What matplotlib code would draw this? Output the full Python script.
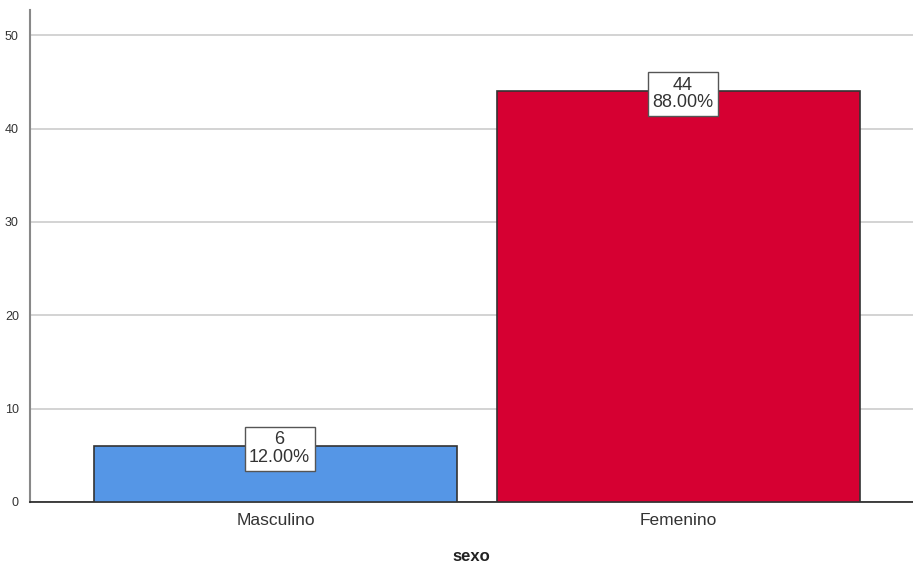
import matplotlib
matplotlib.use('Agg')
import matplotlib.pyplot as plt

categorias = ['Masculino', 'Femenino']
frecuencias = [6, 44]
porcentajes = [12.00, 88.00]
colores = ['#5596E6', '#D60032']

plt.rcParams['font.family'] = ['Liberation Sans', 'DejaVu Sans']

fig = plt.figure(figsize=(9.13, 5.68), dpi=100)
ax = fig.add_axes([30/913, 66/568, 883/913, 492/568])

x = list(range(len(categorias)))
ax.bar(x, frecuencias, width=0.9, color=colores, edgecolor='#333333', linewidth=1.2, zorder=3)

for xi, f, p in zip(x, frecuencias, porcentajes):
    ax.text(xi + 0.01, f - 0.3, "{}\n{:.2f}%".format(f, p), ha='center', va='center',
            fontsize=13, color='#333333', linespacing=1.05, zorder=4,
            bbox=dict(boxstyle='square,pad=0.25', fc='white', ec='#555555', lw=1))

ax.set_xlim(-0.609, 1.581)
ax.set_ylim(0, 52.7)
ax.set_yticks([0, 10, 20, 30, 40, 50])
ax.set_xticks(x)
ax.set_xticklabels(categorias, fontsize=12.5, color='#333333')
ax.tick_params(axis='y', length=0, labelsize=9, colors='#333333', pad=8)
ax.tick_params(axis='x', length=0, pad=8)
ax.yaxis.grid(True, color='#cccccc', linewidth=1.2, zorder=0)
ax.set_axisbelow(True)
for s in ['top', 'right']:
    ax.spines[s].set_visible(False)
ax.spines['left'].set_color('#888888')
ax.spines['left'].set_linewidth(1.5)
ax.spines['bottom'].set_color('#222222')
ax.spines['bottom'].set_linewidth(1.2)
ax.set_xlabel('sexo', fontsize=12, fontweight='bold', color='#222222')
ax.xaxis.set_label_coords(0.5, -0.095)

fig.savefig('out.png', dpi=100)
